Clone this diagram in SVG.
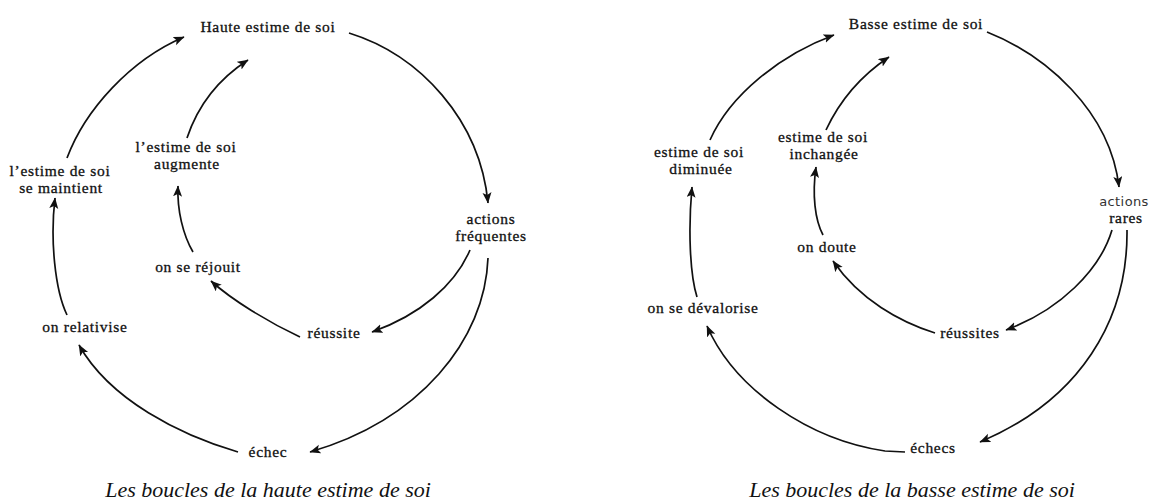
<svg xmlns="http://www.w3.org/2000/svg" width="1150" height="502" viewBox="0 0 1150 502">
  <style>
    .lbl { font-family: "Liberation Serif", "Times New Roman", serif; font-size: 15.5px; letter-spacing: 0.7px; fill: #111; stroke: #111; stroke-width: 0.3px; text-anchor: middle; }
    .sans { font-family: "DejaVu Sans", "Liberation Sans", sans-serif; font-size: 13px; letter-spacing: 0.4px; fill: #333; text-anchor: middle; }
    .cap { font-family: "Liberation Serif", "Times New Roman", serif; font-style: italic; font-size: 22px; fill: #111; text-anchor: middle; }
    .edge { fill: none; stroke: #111; stroke-width: 1.7; marker-end: url(#head); }
  </style>
  <defs>
    <marker id="head" markerUnits="userSpaceOnUse" markerWidth="12" markerHeight="10" refX="10.5" refY="4.5" orient="auto">
      <path d="M0,0 L11,4.5 L0,9 L2.5,4.5 Z" fill="#111"/>
    </marker>
  </defs>
  <rect width="1150" height="502" fill="#fff"/>

  <!-- connectors -->
  <g id="connectors">
    <!-- high self-esteem loops -->
    <path class="edge" d="M349,33 C420,55 480,120 488,203"/>
    <path class="edge" d="M470,250 C455,285 420,315 372,332"/>
    <path class="edge" d="M488,258 C485,340 420,420 310,452"/>
    <path class="edge" d="M238,452 C180,435 110,400 79,345"/>
    <path class="edge" d="M67,315 C55,290 50,240 55,198"/>
    <path class="edge" d="M67,158 C85,110 130,60 184,37"/>
    <path class="edge" d="M300,337 C268,322 232,300 211,281"/>
    <path class="edge" d="M193,252 C183,235 177,210 178,186"/>
    <path class="edge" d="M187,138 C198,105 220,78 248,60"/>
    <!-- low self-esteem loops -->
    <path class="edge" d="M987,32 C1045,55 1110,110 1119,187"/>
    <path class="edge" d="M1112,230 C1100,270 1060,310 1006,330"/>
    <path class="edge" d="M1127,230 C1128,320 1080,400 980,442"/>
    <path class="edge" d="M905,452 L885,451 C810,440 735,390 707,326"/>
    <path class="edge" d="M697,297 C690,275 688,230 692,187"/>
    <path class="edge" d="M710,140 C730,95 780,55 834,35"/>
    <path class="edge" d="M935,333 C900,322 860,300 833,261"/>
    <path class="edge" d="M823,235 C815,220 812,195 816,167"/>
    <path class="edge" d="M826,130 C840,100 862,75 889,57"/>
  </g>

  <!-- high self-esteem nodes -->
  <g id="haute-estime"><text class="lbl" x="268" y="32">Haute estime de soi</text></g>
  <g id="actions-frequentes">
    <text class="lbl" x="491" y="224">actions</text>
    <text class="lbl" x="491" y="241">fréquentes</text>
  </g>
  <g id="reussite"><text class="lbl" x="334" y="338">réussite</text></g>
  <g id="on-se-rejouit"><text class="lbl" x="198" y="272">on se réjouit</text></g>
  <g id="estime-augmente">
    <text class="lbl" x="186" y="152">l’estime de soi</text>
    <text class="lbl" x="187" y="169">augmente</text>
  </g>
  <g id="echec"><text class="lbl" x="268" y="457">échec</text></g>
  <g id="on-relativise"><text class="lbl" x="85" y="332">on relativise</text></g>
  <g id="estime-maintient">
    <text class="lbl" x="60" y="176">l’estime de soi</text>
    <text class="lbl" x="61" y="193">se maintient</text>
  </g>
  <g id="caption-haute"><text class="cap" x="268" y="497">Les boucles de la haute estime de soi</text></g>

  <!-- low self-esteem nodes -->
  <g id="basse-estime"><text class="lbl" x="916" y="29">Basse estime de soi</text></g>
  <g id="actions-rares">
    <text class="sans" x="1124" y="206">actions</text>
    <text class="lbl" x="1126" y="223">rares</text>
  </g>
  <g id="reussites"><text class="lbl" x="970" y="338">réussites</text></g>
  <g id="on-doute"><text class="lbl" x="827" y="252">on doute</text></g>
  <g id="estime-inchangee">
    <text class="lbl" x="823" y="142">estime de soi</text>
    <text class="lbl" x="824" y="159">inchangée</text>
  </g>
  <g id="echecs"><text class="lbl" x="933" y="453">échecs</text></g>
  <g id="on-se-devalorise"><text class="lbl" x="703" y="313">on se dévalorise</text></g>
  <g id="estime-diminuee">
    <text class="lbl" x="699" y="157">estime de soi</text>
    <text class="lbl" x="701" y="174">diminuée</text>
  </g>
  <g id="caption-basse"><text class="cap" x="912" y="497">Les boucles de la basse estime de soi</text></g>
</svg>
